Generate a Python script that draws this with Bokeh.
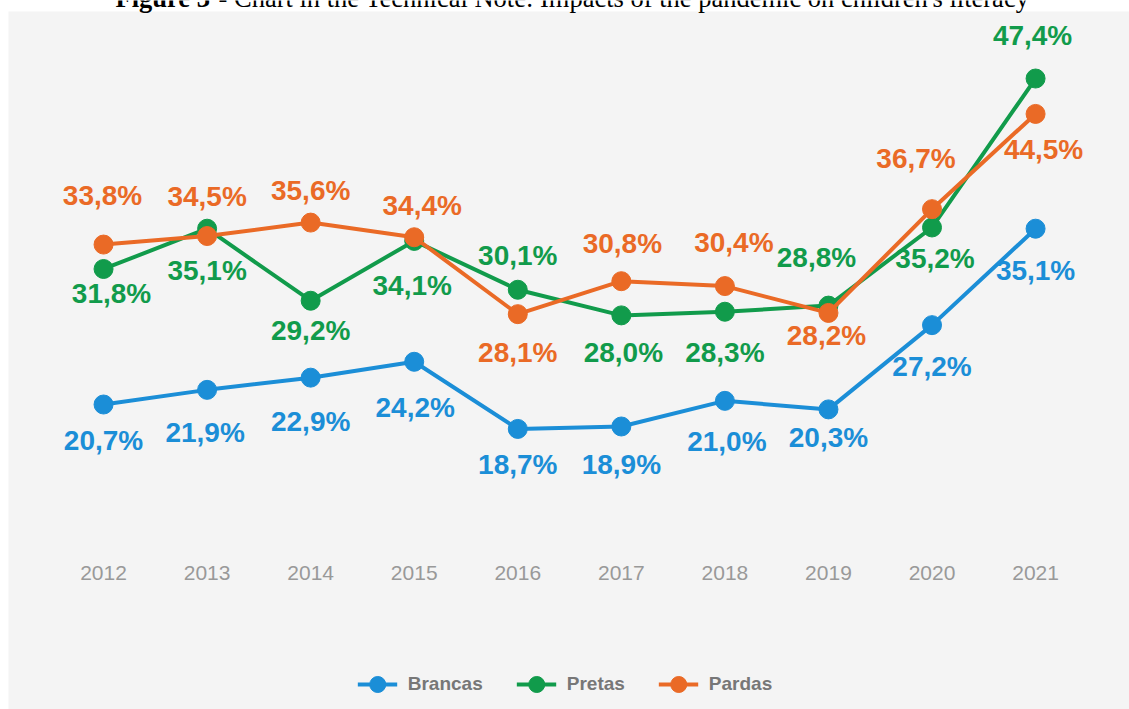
from bokeh.plotting import figure
from bokeh.models import (Range1d, LinearAxis, FixedTicker, BoxAnnotation, Label,
                          Legend, LegendItem, ColumnDataSource)
from bokeh.core.properties import value
from bokeh.embed import file_html
from bokeh.resources import INLINE

# ---------------- data ----------------
years = [2012, 2013, 2014, 2015, 2016, 2017, 2018, 2019, 2020, 2021]
brancas = [20.7, 21.9, 22.9, 24.2, 18.7, 18.9, 21.0, 20.3, 27.2, 35.1]
pretas = [31.8, 35.1, 29.2, 34.1, 30.1, 28.0, 28.3, 28.8, 35.2, 47.4]
pardas = [33.8, 34.5, 35.6, 34.4, 28.1, 30.8, 30.4, 28.2, 36.7, 44.5]
series_names = ["Brancas", "Pretas", "Pardas"]
title_bold = "Figure 3"
title_rest = "- Chart in the Technical Note: Impacts of the pandemic on children's literacy"

# ---------------- label placement (screen px offsets from each point) ----------------
brancas_dx = [0, -2, 0, 1, 0, 0, 2, 0, 0, 0]
brancas_dy = [36, 43, 44, 46, 36, 38, 41, 28, 41, 42]
pretas_dx = [8, 0, 0, -2, 0, 2, 0, -12, 3, -3]
pretas_dy = [25, 42, 30, 45, -34, 37, 41, -48, 31, -43]
pardas_dx = [-1, 0, 0, 8, 0, 1, 9, -2, -16, 8]
pardas_dy = [-49, -40, -32, -32, 38, -38, -44, 23, -51, 36]

colors = ["#1b8ed7", "#119b4b", "#ea6a26"]

W, H = 1129, 709
X0, X1 = 2011.005, 2021.907
Y0, Y1 = -4.28, 53.79


def xd(px):
    return X0 + px / W * (X1 - X0)


def yd(py):
    return Y1 - py / H * (Y1 - Y0)


p = figure(width=W, height=H, x_range=Range1d(X0, X1), y_range=Range1d(Y0, Y1),
           x_axis_location=None, y_axis_location=None,
           toolbar_location=None, output_backend="svg",
           min_border=0, min_border_left=0, min_border_right=0,
           min_border_top=0, min_border_bottom=0,
           background_fill_color="white", border_fill_color="white",
           outline_line_color=None)
p.xgrid.visible = False
p.ygrid.visible = False

# gray panel
p.add_layout(BoxAnnotation(left=xd(8), top=yd(11), fill_color="#f4f4f4", fill_alpha=1,
                           line_color=None, level="underlay"))

# x axis drawn inside the panel
xaxis = LinearAxis(ticker=FixedTicker(ticks=years), fixed_location=yd(565),
                   axis_line_color=None, major_tick_line_color=None,
                   minor_tick_line_color=None, major_tick_out=0, major_tick_in=0,
                   major_label_standoff=0,
                   major_label_text_font="Liberation Sans",
                   major_label_text_font_size="21px",
                   major_label_text_color="#999999")
p.add_layout(xaxis, "below")

items = []
for name, vals, dx, dy, c in zip(series_names, [brancas, pretas, pardas],
                                 [brancas_dx, pretas_dx, pardas_dx],
                                 [brancas_dy, pretas_dy, pardas_dy], colors):
    src = ColumnDataSource(dict(x=years, y=vals,
                                lab=[f"{v:.1f}".replace(".", ",") + "%" for v in vals],
                                dx=dx, dy=dy))
    lr = p.line("x", "y", source=src, line_width=4, line_color=c)
    sr = p.scatter("x", "y", source=src, size=19, fill_color=c, line_color=c)
    items.append(LegendItem(label=name, renderers=[lr, sr]))
    p.text("x", "y", text="lab", x_offset="dx", y_offset="dy", source=src,
           text_align="center", text_baseline="middle",
           text_font=value("Liberation Sans"), text_font_style="bold",
           text_font_size="28px", text_color=c)

legend = Legend(items=items, location="bottom_center", orientation="horizontal",
                glyph_width=40, glyph_height=42, label_standoff=11, spacing=33,
                padding=0, margin=4, background_fill_alpha=0, border_line_color=None,
                label_text_font="Liberation Sans", label_text_font_style="bold",
                label_text_font_size="19px", label_text_color="#777777")
p.add_layout(legend)

# cropped title at the top
p.add_layout(Label(x=xd(115), y=yd(-2.5), text=title_bold, text_font="Liberation Serif",
                   text_font_style="bold", text_font_size="26.5px", text_align="left",
                   text_baseline="alphabetic", text_color="black"))
p.add_layout(Label(x=xd(218), y=yd(-2.5), text=title_rest, text_font="Liberation Serif",
                   text_font_style="normal", text_font_size="26.5px", text_align="left",
                   text_baseline="alphabetic", text_color="black"))

open("out.html", "w").write(file_html(p, INLINE))
